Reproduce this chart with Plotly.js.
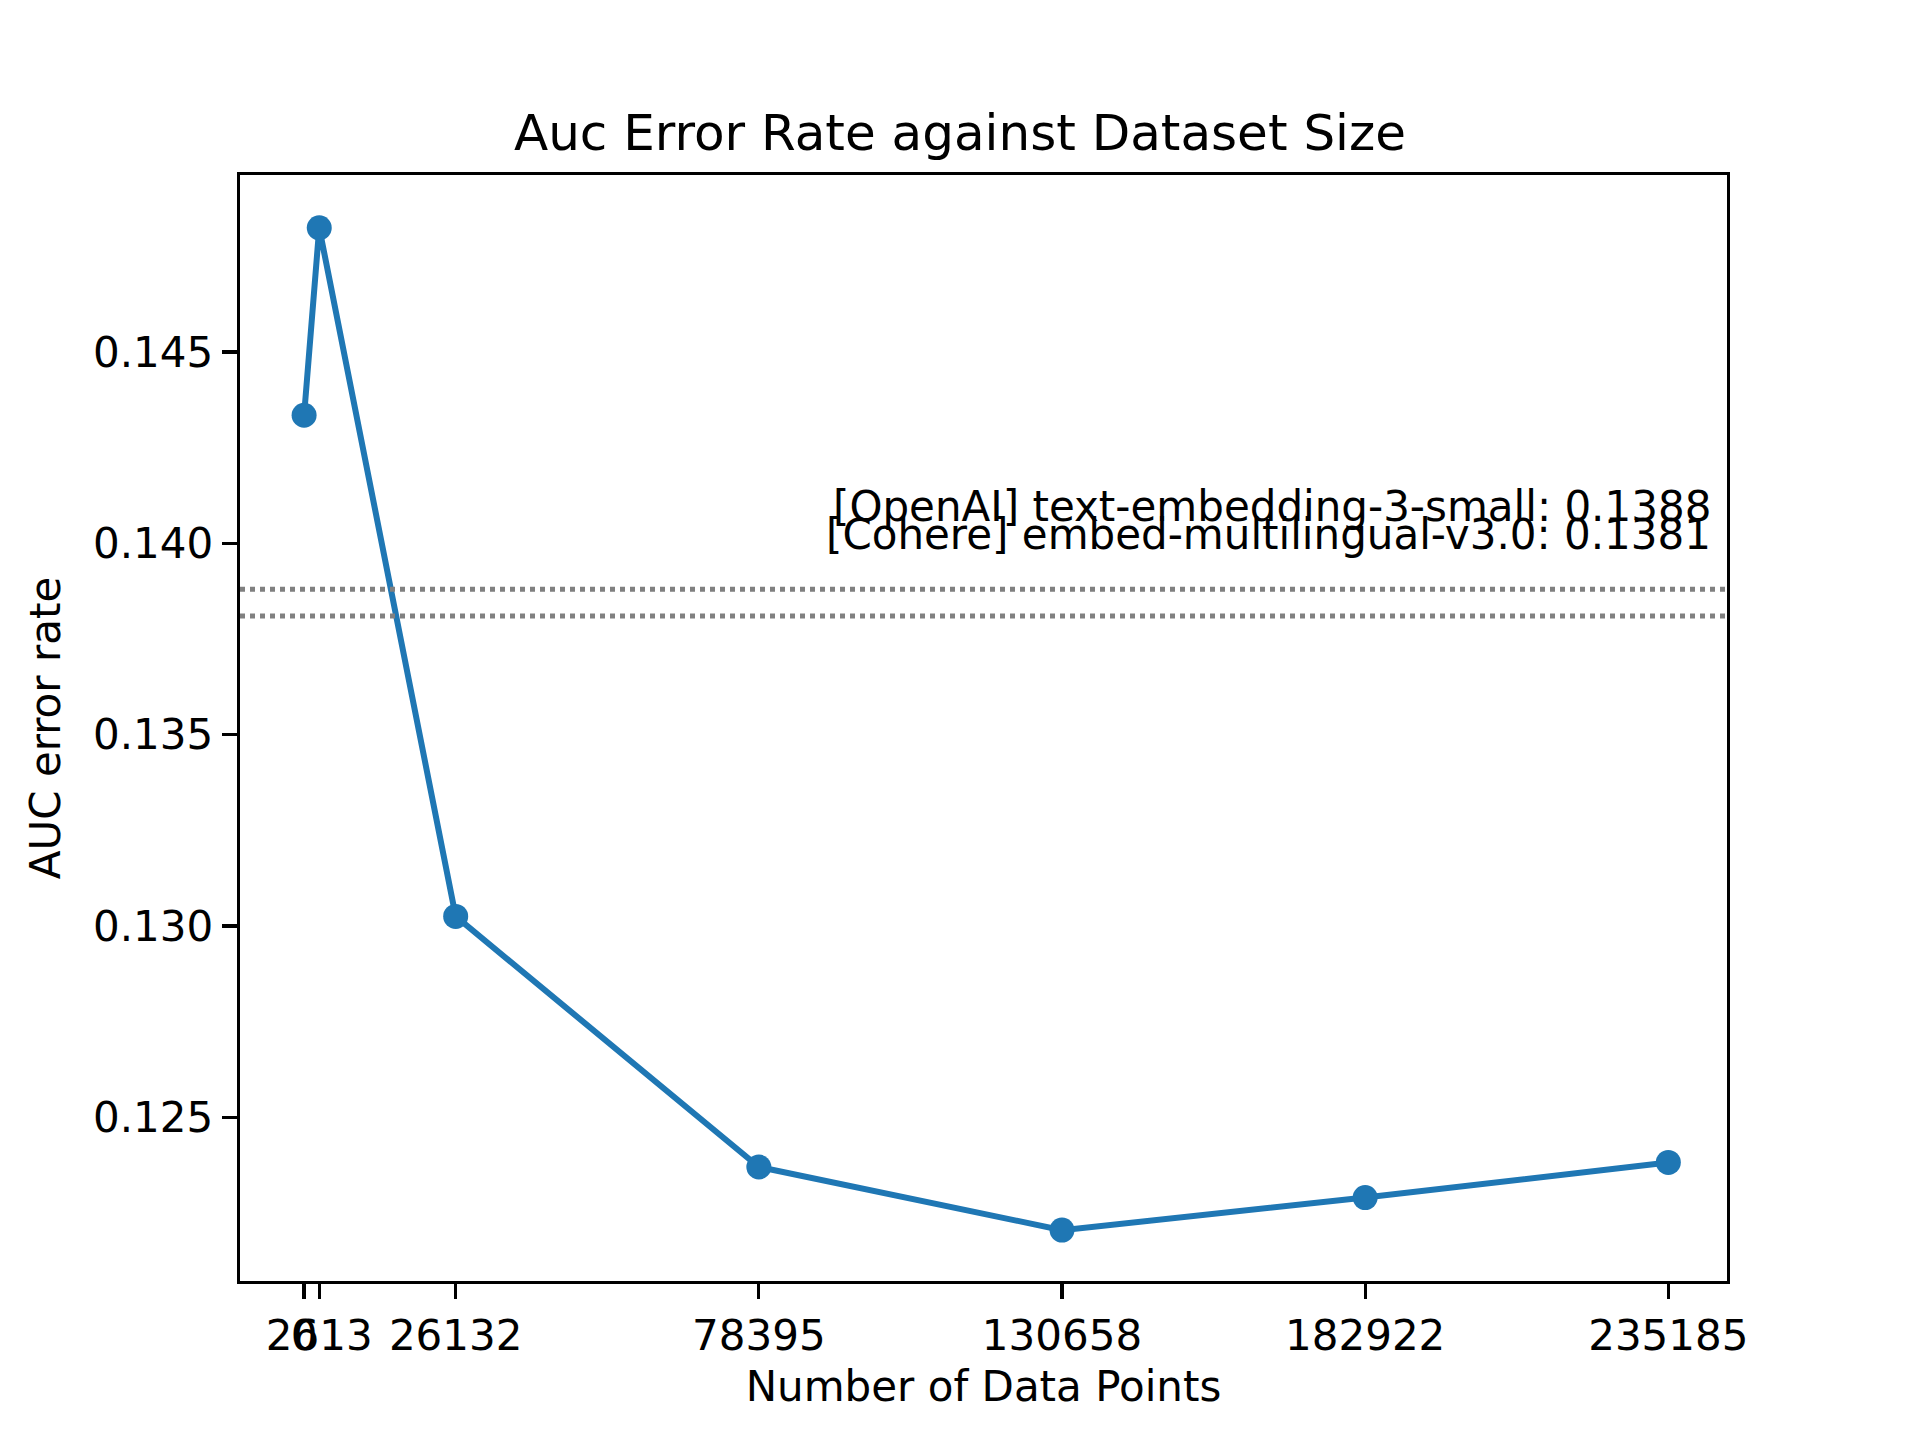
<!DOCTYPE html>
<html>
<head>
<script src="https://cdn.plot.ly/plotly-3.0.1.min.js"></script>
<style>body{margin:0;background:#fff}#chart{width:1920px;height:1440px}</style>
</head>
<body>
<div id="chart"></div>
<script>
const dataSizes = [0, 2613, 26132, 78395, 130658, 182922, 235185];
const aucErrors = [0.14335, 0.14825, 0.13025, 0.12370, 0.12205, 0.12290, 0.12382];
const baselineNames = ['[OpenAI] text-embedding-3-small', '[Cohere] embed-multilingual-v3.0'];
const baselineValues = [0.1388, 0.1381];

const font = 'DejaVu Sans, sans-serif';
const xRange = [-11050, 245300];

const traces = [{
    type: 'scatter',
    mode: 'lines+markers',
    x: dataSizes,
    y: aucErrors,
    line: { color: '#1f77b4', width: 6 },
    marker: { color: '#1f77b4', size: 25 },
    cliponaxis: false,
    showlegend: false,
}];

baselineValues.forEach(v => {
    traces.push({
        type: 'scatter',
        mode: 'lines',
        x: xRange,
        y: [v, v],
        line: { color: 'gray', width: 5, dash: 'dot' },
        showlegend: false,
        hoverinfo: 'skip',
    });
});

// labels almost on top of each other, right aligned, like the source
const annotations = baselineNames.map((name, i) => ({
    x: 1, xref: 'paper', xanchor: 'right',
    y: 0.13953 + (i === 0 ? 0.00075 : 0), yref: 'y', yanchor: 'bottom',
    text: name + ': ' + baselineValues[i].toFixed(4),
    showarrow: false,
    xshift: -14,
    font: { family: font, size: 42, color: '#000' },
}));

const layout = {
    width: 1920, height: 1440,
    paper_bgcolor: '#fff', plot_bgcolor: '#fff',
    margin: { l: 240, r: 193, t: 175, b: 159 },
    font: { family: font, size: 42, color: '#000' },
    title: { text: 'Auc Error Rate against Dataset Size', x: 0.5, xanchor: 'center', y: 0.908, yanchor: 'middle', font: { family: font, size: 50 } },
    xaxis: {
        range: xRange,
        tickvals: dataSizes,
        ticktext: dataSizes.map(String),
        tickangle: 0,
        ticks: 'outside', ticklen: 15, tickwidth: 3.3, tickcolor: '#000',
        showline: true, linecolor: '#000', linewidth: 3.3, mirror: true,
        showgrid: false, zeroline: false,
        title: { text: 'Number of Data Points', font: { size: 42 }, standoff: 14 },
    },
    yaxis: {
        range: [0.12072, 0.14963],
        tickvals: [0.125, 0.130, 0.135, 0.140, 0.145],
        ticktext: ['0.125', '0.130', '0.135', '0.140', '0.145'],
        ticks: 'outside', ticklen: 15, tickwidth: 3.3, tickcolor: '#000',
        showline: true, linecolor: '#000', linewidth: 3.3, mirror: true,
        showgrid: false, zeroline: false,
        title: { text: 'AUC error rate', font: { size: 42 }, standoff: 20 },
    },
    annotations,
};

Plotly.newPlot('chart', traces, layout, { displayModeBar: false, staticPlot: true });
</script>
</body>
</html>
